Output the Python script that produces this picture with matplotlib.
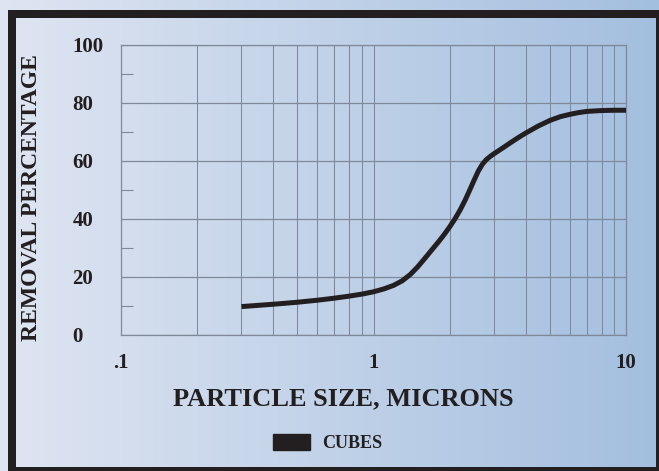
import matplotlib
matplotlib.use("Agg")
import numpy as np
import matplotlib.pyplot as plt
from matplotlib.patches import Rectangle, Patch
from matplotlib.ticker import FixedLocator, NullFormatter

# curve (particle size in microns, removal %)
particle_size = [0.3, 0.4, 0.5, 0.6, 0.7, 0.8, 0.9, 1.0, 1.1, 1.2, 1.3,
                 1.4, 1.5, 1.6, 1.7, 1.8, 1.9, 2.0, 2.1, 2.2, 2.3, 2.4,
                 2.5, 2.6, 2.7, 2.8, 2.9, 3.0, 3.25, 3.5, 3.75, 4.0, 4.5,
                 5.0, 5.5, 6.0, 6.5, 7.0, 8.0, 9.0, 10.0]
removal_pct = [9.8, 10.6, 11.3, 12.0, 12.7, 13.4, 14.1, 14.9, 15.9, 17.1, 18.7,
               20.9, 23.6, 26.5, 29.3, 31.9, 34.5, 37.2, 40.0, 43.0, 46.3, 49.8,
               53.3, 56.5, 58.9, 60.5, 61.6, 62.5, 64.5, 66.4, 68.1, 69.6, 72.1,
               74.0, 75.3, 76.1, 76.7, 77.1, 77.4, 77.5, 77.5]

x_ticks = [0.1, 1, 10]
x_ticklabels = [".1", "1", "10"]
y_ticks = [0, 20, 40, 60, 80, 100]
series_name = "CUBES"

INK = "#231f20"
GRID = "#808999"
FONT = "Liberation Serif"

plt.rcParams["font.family"] = [FONT, "DejaVu Serif"]
plt.rcParams["font.weight"] = "bold"

fig = plt.figure(figsize=(6.59, 4.71), dpi=100)

# background gradient
bg = fig.add_axes([0, 0, 1, 1], zorder=-2)
c0 = np.array([0xdf, 0xe5, 0xf2]) / 255
c1 = np.array([0xa3, 0xbf, 0xdf]) / 255
t = np.linspace(0, 1, 256)[None, :, None]
grad = c0 + (c1 - c0) * t
bg.imshow(grad, aspect="auto", extent=[0, 1, 0, 1])
bg.axis("off")

# dark frame
W, H = 659, 471
frame = Rectangle((12 / W, 0), (660 - 12) / W, (471 - 14) / H,
                  transform=fig.transFigure, fill=False, edgecolor=INK,
                  linewidth=8 * 0.72, clip_on=False, zorder=5)
fig.add_artist(frame)

ax = fig.add_axes([121 / W, (H - 335) / H, 505 / W, 290 / H])
ax.set_facecolor("none")
ax.plot(particle_size, removal_pct, color=INK, linewidth=5 * 0.72,
        solid_capstyle="butt", solid_joinstyle="round", zorder=3)

ax.set_xscale("log")
ax.set_xlim(0.1, 10)
ax.set_ylim(0, 100)

ax.set_xticks(x_ticks)
ax.set_xticklabels(x_ticklabels)
ax.xaxis.set_minor_locator(FixedLocator(
    [m * d for d in (0.1, 1) for m in range(2, 10)]))
ax.xaxis.set_minor_formatter(NullFormatter())
ax.set_yticks(y_ticks)
ax.yaxis.set_minor_locator(FixedLocator([10, 30, 50, 70, 90]))

ax.grid(True, which="both", axis="x", color=GRID, linewidth=0.75)
ax.grid(True, which="major", axis="y", color=GRID, linewidth=0.9)

ax.tick_params(axis="x", which="both", length=0, pad=13,
               labelsize=15, labelcolor=INK)
ax.tick_params(axis="y", which="major", length=0, pad=35,
               labelsize=15, labelcolor=INK)
ax.tick_params(axis="y", which="minor", direction="in", length=8.6,
               color=GRID, width=0.8)
for lab in ax.get_yticklabels():
    lab.set_horizontalalignment("left")

for sp in ax.spines.values():
    sp.set_color(GRID)
    sp.set_linewidth(0.9)

ax.set_xlabel("PARTICLE SIZE, MICRONS", fontsize=19, color=INK,
              fontweight="bold", va="center")
ax.xaxis.set_label_coords((343 - 121) / 505, (335 - 399) / 290)
ax.set_ylabel("REMOVAL PERCENTAGE", fontsize=17, color=INK,
              fontweight="bold", va="center")
ax.yaxis.set_label_coords((32 - 121) / 505, (335 - 197.5) / 290)

handle = Patch(facecolor=INK, edgecolor=INK)
fig.legend([handle], [series_name], loc="center",
           bbox_to_anchor=(327.5 / W, (H - 443) / H), frameon=False,
           handlelength=2.05, handleheight=0.95,
           handletextpad=0.65, labelcolor=INK,
           prop={"family": FONT, "weight": "bold", "size": 13})

fig.savefig("out.png", dpi=100)
